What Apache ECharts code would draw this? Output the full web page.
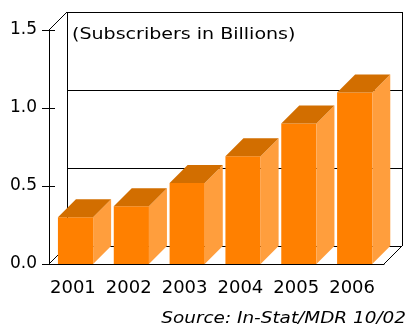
<!DOCTYPE html>
<html>
<head>
<meta charset="utf-8">
<script src="https://cdn.jsdelivr.net/npm/echarts@6/dist/echarts.min.js"></script>
<style>
  html, body { margin: 0; padding: 0; background: #fff; }
  #chart { width: 408px; height: 329px; }
</style>
</head>
<body>
<div id="chart"></div>
<script>
// data
var years = ['2001', '2002', '2003', '2004', '2005', '2006'];
var subscribers = [0.30, 0.37, 0.52, 0.69, 0.90, 1.10];
var yTicks = [0, 0.5, 1.0, 1.5];

// 3d look
var DX = 18, DY = 18;
var FRONT = '#ff8000', SIDE = '#ff9e3d', TOP = '#d26e00';

var chart = echarts.init(document.getElementById('chart'));

function crisp(v) { return Math.round(v) + 0.5; }

function drawWall(params, api) {
  var w = api.size([1, 0])[0];
  var x0 = api.coord([0, 0])[0] - w / 2;
  var x1 = api.coord([years.length - 1, 0])[0] + w / 2;
  var y0 = api.coord([0, yTicks[0]])[1];
  var yTop = api.coord([0, yTicks[yTicks.length - 1]])[1];
  var st = { stroke: '#000', lineWidth: 1 };
  var kids = [];
  function line(a, b, c, d) {
    kids.push({ type: 'line', shape: { x1: a, y1: b, x2: c, y2: d }, style: st });
  }
  // back wall grid lines
  yTicks.forEach(function (t) {
    var y = crisp(api.coord([0, t])[1] - DY);
    line(x0 + DX, y, x1 + DX, y);
  });
  line(crisp(x0 + DX), yTop - DY, crisp(x0 + DX), y0 - DY);
  line(crisp(x1 + DX), yTop - DY, crisp(x1 + DX), y0 - DY);
  // depth edges
  line(x0, yTop, x0 + DX, yTop - DY);
  line(x0, y0, x0 + DX, y0 - DY);
  line(x1, y0, x1 + DX, y0 - DY);
  return { type: 'group', children: kids };
}

function drawBar(params, api) {
  var i = api.value(0), v = api.value(1);
  var base = api.coord([i, 0]);
  var top = api.coord([i, v]);
  var w = api.size([1, 0])[0];
  var xa = base[0] - 0.34 * w, xb = base[0] + 0.29 * w;
  var yb = base[1], yt = top[1];
  return {
    type: 'group',
    children: [
      { type: 'rect', shape: { x: xa, y: yt, width: xb - xa, height: yb - yt }, style: { fill: FRONT } },
      { type: 'polygon', shape: { points: [[xb, yt], [xb + DX, yt - DY], [xb + DX, yb - DY], [xb, yb]] }, style: { fill: SIDE } },
      { type: 'polygon', shape: { points: [[xa, yt], [xa + DX, yt - DY], [xb + DX, yt - DY], [xb, yt]] }, style: { fill: TOP } }
    ]
  };
}

chart.setOption({
  animation: false,
  textStyle: { fontFamily: 'DejaVu Sans', color: '#000' },
  grid: { left: 49, right: 24, top: 30, bottom: 65 },
  xAxis: {
    type: 'category',
    data: years,
    axisLine: { lineStyle: { color: '#000', width: 1 } },
    axisTick: { length: 6, lineStyle: { color: '#000' } },
    axisLabel: { color: '#000', fontSize: 18, margin: 15, interval: 0, padding: [0, 8, 0, 0], fontFamily: 'DejaVu Sans' }
  },
  yAxis: [{
    type: 'value', min: 0, max: 1.5, interval: 0.5,
    axisLine: { show: true, lineStyle: { color: '#000', width: 1 } },
    axisTick: { show: true, length: 7, lineStyle: { color: '#000' } },
    axisLabel: { color: '#000', fontSize: 17, margin: 12, fontFamily: 'DejaVu Sans',
      formatter: function (v) { return v.toFixed(1); } },
    splitLine: { show: false }
  }, {
    type: 'value', min: 0, max: 1.5, interval: 0.5, position: 'left',
    axisLine: { show: false },
    axisTick: { show: true, inside: true, length: 6, lineStyle: { color: '#000' } },
    axisLabel: { show: false },
    splitLine: { show: false }
  }],
  graphic: [
    { type: 'text', x: 72, y: 27, scaleX: 1.19,
      style: { text: '(Subscribers in Billions)', font: '16px "DejaVu Sans"', fill: '#000', textAlign: 'left', textVerticalAlign: 'top' } },
    { type: 'text', x: 406, y: 311, scaleX: 1.15,
      style: { text: 'Source: In-Stat/MDR 10/02', font: 'italic 16px "DejaVu Sans"', fill: '#000', textAlign: 'right', textVerticalAlign: 'top' } }
  ],
  series: [{
    type: 'custom', silent: true, z: 1,
    renderItem: drawWall,
    data: [[0, 0]]
  }, {
    type: 'custom', silent: true, z: 2,
    renderItem: drawBar,
    encode: { x: 0, y: 1 },
    data: subscribers.map(function (v, i) { return [i, v]; })
  }]
});
</script>
</body>
</html>
